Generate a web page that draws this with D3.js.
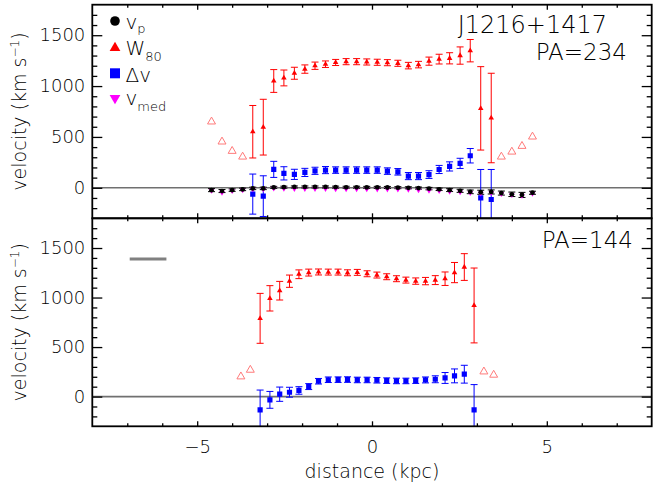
<!DOCTYPE html>
<html>
<head>
<meta charset="utf-8">
<script src="https://d3js.org/d3.v7.min.js"></script>
<style>
body { margin: 0; background: #fff; }
svg { display: block; }
text { font-family: "DejaVu Sans", sans-serif; font-weight: 200; fill: #000; }
</style>
</head>
<body>
<svg id="chart" width="658" height="485"></svg>
<script>
// top panel (PA=234): distance along slit in kpc
var topDist = [-4.59,-4.29,-4.00,-3.70,-3.41,-3.11,-2.81,-2.52,-2.22,-1.92,-1.63,-1.33,-1.04,-0.74,-0.44,-0.15,
               0.15,0.44,0.74,1.04,1.33,1.63,1.92,2.22,2.52,2.81,3.11,3.41,3.70,4.00,4.29,4.59];
var topVp    = [-23,-32,-23,-16,-6,-6,4,6,8,8,8,8,6,5,5,4,4,3,1,0,-3,-8,-15,-23,-30,-40,-44,-41,-52,-64,-70,-49];
var topVpErr = [15,15,12,12,12,12,10,10,10,10,10,10,10,10,10,10,10,10,10,10,10,12,12,14,15,18,20,20,20,22,25,15];
var topVmed  = [-28,-48,-30,-22,-12,-12,-6,-8,-10,-10,-10,-10,-12,-12,-12,-12,-14,-14,-16,-18,-22,-26,-30,-36,-42,-50,-55,-50,-60,-70,-76,-56];
var topW80    = [650,453,361,305,551,596,1050,1080,1126,1167,1200,1215,1232,1240,1240,1237,
                 1234,1230,1224,1201,1211,1245,1265,1273,1300,1348,781,686,305,354,410,502];
// null error = point drawn as open triangle
var topW80Err = [null,null,null,null,258,274,112,78,59,41,36,32,30,30,30,30,
                 30,30,30,32,32,40,48,55,85,110,410,440,null,null,null,null];
var topDv    = [null,null,null,null,-62,-82,181,142,132,151,167,174,174,174,174,174,
                174,164,157,115,115,130,180,210,240,315,-100,-115,null,null,null,null];
var topDvErr = [null,null,null,null,197,200,79,65,50,40,35,35,32,32,32,32,
                32,32,32,35,35,38,40,45,50,71,280,295,null,null,null,null];

// bottom panel (PA=144)
var botDist = [-3.75,-3.48,-3.20,-2.92,-2.64,-2.36,-2.09,-1.81,-1.53,-1.25,-0.97,-0.70,-0.42,-0.14,
               0.14,0.42,0.70,0.97,1.25,1.53,1.81,2.09,2.36,2.64,2.92,3.20,3.48];
var botW80    = [202,269,790,992,1069,1165,1235,1252,1258,1257,1257,1250,1254,1240,
                 1227,1210,1190,1176,1166,1166,1176,1190,1252,1308,920,252,219];
var botW80Err = [null,null,252,128,94,62,44,35,30,30,30,30,30,30,
                 30,30,30,30,32,37,45,68,102,135,378,null,null];
var botDv    = [null,null,-134,-33,24,44,62,101,155,170,171,172,168,168,
                165,161,158,158,161,168,175,188,209,226,-134,null,null];
var botDvErr = [null,null,200,85,72,50,38,30,28,28,28,28,28,28,
                28,28,28,28,28,30,35,55,70,90,255,null,null];

// grey bar in the lower panel
var barDist = [-6.93, -5.88];
var barVel = 1390;

var xMajor = [-5, 0, 5];
var yMajor = [0, 500, 1000, 1500];

var colW80 = "#ff0000", colDv = "#0000ff", colVp = "#000000", colVmed = "#ff00ff", colOpen = "#ff7a7a";

var svg = d3.select("#chart");

var xScale = d3.scaleLinear().domain([-8, 8]).range([92.3, 651.7]);
var yTop = d3.scaleLinear().domain([-300, 1800]).range([218.3, 4.7]);
var yBot = d3.scaleLinear().domain([-300, 1800]).range([426.3, 218.3]);

var xMinor = d3.range(-7, 8).filter(function(d){ return xMajor.indexOf(d) < 0; });
var yMinor = d3.range(-200, 1800, 100).filter(function(d){ return yMajor.indexOf(d) < 0; });

// marker shapes
function triUp(r){ return "M0," + (-r) + "L" + (0.866*r) + "," + (0.5*r) + "L" + (-0.866*r) + "," + (0.5*r) + "Z"; }
function triDown(r){ return "M0," + r + "L" + (0.866*r) + "," + (-0.5*r) + "L" + (-0.866*r) + "," + (-0.5*r) + "Z"; }
function square(h){ return "M" + (-h) + "," + (-h) + "h" + (2*h) + "v" + (2*h) + "h" + (-2*h) + "Z"; }

function idx(arr){ return d3.range(arr.length).filter(function(i){ return arr[i] !== null; }); }

function errBars(g, yScale, xs, vals, errs, color){
  var ids = idx(errs);
  var eb = g.append("g").attr("stroke", color).attr("stroke-width", 1).attr("fill", "none");
  eb.selectAll("path").data(ids).enter().append("path")
    .attr("d", function(i){
      var x = xScale(xs[i]), y0 = yScale(vals[i] - errs[i]), y1 = yScale(vals[i] + errs[i]);
      return "M" + x + "," + y0 + "V" + y1 +
             "M" + (x-3.5) + "," + y0 + "h7" +
             "M" + (x-3.5) + "," + y1 + "h7";
    });
}

function markers(g, yScale, xs, vals, ids, shape, fill, stroke){
  g.append("g").selectAll("path").data(ids).enter().append("path")
    .attr("transform", function(i){ return "translate(" + xScale(xs[i]) + "," + yScale(vals[i]) + ")"; })
    .attr("d", shape)
    .attr("fill", fill)
    .attr("stroke", stroke || "none")
    .attr("stroke-width", 1);
}

function panel(id, yScale, showX){
  var r = yScale.range();
  var top = r[1], bottom = r[0];
  var g = svg.append("g");

  g.append("clipPath").attr("id", "clip" + id)
    .append("rect").attr("x", xScale(-8)).attr("y", top)
    .attr("width", xScale(8) - xScale(-8)).attr("height", bottom - top);

  var plot = g.append("g").attr("clip-path", "url(#clip" + id + ")");

  // zero line
  plot.append("line")
    .attr("x1", xScale(-8)).attr("x2", xScale(8))
    .attr("y1", yScale(0)).attr("y2", yScale(0))
    .attr("stroke", "#707070").attr("stroke-width", 1.6);

  // axes with inward ticks
  function ax(axis, tx, ty, size, vals, fmt){
    var a = g.append("g").attr("transform", "translate(" + tx + "," + ty + ")")
      .call(axis.tickValues(vals).tickSize(size).tickSizeOuter(0).tickFormat(fmt ? d3.format("") : ""));
    a.select(".domain").remove();
    a.selectAll("line").attr("stroke", "#000").attr("stroke-width", 1.3);
    a.attr("font-family", null).attr("font-size", 18);
    return a;
  }
  ax(d3.axisLeft(yScale).tickPadding(7), xScale(-8), 0, -10, yMajor, true);
  ax(d3.axisLeft(yScale), xScale(-8), 0, -5, yMinor, false);
  ax(d3.axisRight(yScale), xScale(8), 0, -10, yMajor, false);
  ax(d3.axisRight(yScale), xScale(8), 0, -5, yMinor, false);
  ax(d3.axisTop(xScale), 0, top, -5, xMajor, false);
  ax(d3.axisTop(xScale), 0, top, -3, xMinor, false);
  ax(d3.axisBottom(xScale).tickPadding(14), 0, bottom, -5, xMajor, showX);
  ax(d3.axisBottom(xScale), 0, bottom, -3, xMinor, false);

  // frame
  g.append("rect")
    .attr("x", xScale(-8)).attr("y", top)
    .attr("width", xScale(8) - xScale(-8)).attr("height", bottom - top)
    .attr("fill", "none").attr("stroke", "#000").attr("stroke-width", 1.8);

  g.append("text")
    .attr("transform", "translate(25.5," + ((top + bottom) / 2) + ") rotate(-90)")
    .attr("text-anchor", "middle").attr("font-size", 19)
    .call(function(t){
      t.append("tspan").text("velocity (km s");
      t.append("tspan").attr("dy", -7).attr("font-size", 12).text("−1");
      t.append("tspan").attr("dy", 7).text(")");
    });

  return plot;
}

// ---- top panel ----
var pTop = panel("top", yTop, false);
errBars(pTop, yTop, topDist, topDv, topDvErr, colDv);
errBars(pTop, yTop, topDist, topW80, topW80Err, colW80);
errBars(pTop, yTop, topDist, topVp, topVpErr, colVp);
markers(pTop, yTop, topDist, topW80, idx(topW80).filter(function(i){ return topW80Err[i] === null; }), triUp(4.6), "none", colOpen);
markers(pTop, yTop, topDist, topDv, idx(topDv), square(2.6), colDv);
markers(pTop, yTop, topDist, topW80, idx(topW80Err), triUp(3.2), colW80);
markers(pTop, yTop, topDist, topVmed, idx(topVmed), triDown(3.2), colVmed);
markers(pTop, yTop, topDist, topVp, idx(topVp), "M-2.4,0a2.4,2.4 0 1,0 4.8,0a2.4,2.4 0 1,0 -4.8,0", colVp);

// ---- bottom panel ----
var pBot = panel("bot", yBot, true);
pBot.append("line")
  .attr("x1", xScale(barDist[0])).attr("x2", xScale(barDist[1]))
  .attr("y1", yBot(barVel)).attr("y2", yBot(barVel))
  .attr("stroke", "#808080").attr("stroke-width", 3);
errBars(pBot, yBot, botDist, botDv, botDvErr, colDv);
errBars(pBot, yBot, botDist, botW80, botW80Err, colW80);
markers(pBot, yBot, botDist, botW80, idx(botW80).filter(function(i){ return botW80Err[i] === null; }), triUp(4.6), "none", colOpen);
markers(pBot, yBot, botDist, botDv, idx(botDv), square(2.6), colDv);
markers(pBot, yBot, botDist, botW80, idx(botW80Err), triUp(3.2), colW80);

// labels
svg.append("text").attr("x", 607).attr("y", 33).attr("text-anchor", "end").attr("font-size", 24).text("J1216+1417");
svg.append("text").attr("x", 627).attr("y", 60).attr("text-anchor", "end").attr("font-size", 23).text("PA=234");
svg.append("text").attr("x", 633).attr("y", 248).attr("text-anchor", "end").attr("font-size", 23).text("PA=144");
svg.append("text").attr("x", xScale(0)).attr("y", 478).attr("text-anchor", "middle").attr("font-size", 19).text("distance (kpc)");

// legend
var legend = svg.append("g");
legend.append("circle").attr("cx", 115).attr("cy", 21).attr("r", 4.8).attr("fill", colVp);
legend.append("path").attr("transform", "translate(115,48)").attr("d", triUp(6.2)).attr("fill", colW80);
legend.append("path").attr("transform", "translate(115,73.3)").attr("d", square(5)).attr("fill", colDv);
legend.append("path").attr("transform", "translate(115,98)").attr("d", triDown(6.2)).attr("fill", colVmed);

function legendText(y, main, sub, shift){
  var t = legend.append("text").attr("x", 125.5).attr("y", y).attr("font-size", 20);
  t.append("tspan").text(main);
  if (sub) t.append("tspan").attr("dy", shift).attr("font-size", 13).text(sub);
}
legendText(29.3, "v", "p", 3.5);
legendText(55, "W", "80", 5.5);
legendText(81.7, "Δv");
legendText(105, "v", "med", 5.5);
</script>
</body>
</html>
